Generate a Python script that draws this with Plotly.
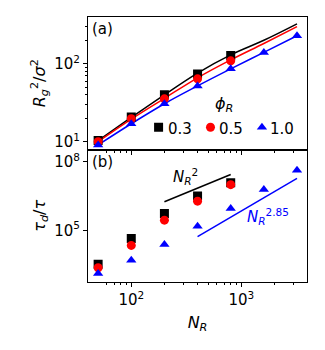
import plotly.graph_objects as go
from plotly.subplots import make_subplots

# ---- data ----
N = [50, 100, 200, 400, 800, 1600, 3200]

phi_labels = ["0.3", "0.5", "1.0"]
colors = ["black", "red", "blue"]
symbols = ["square", "circle", "triangle-up"]

# (a) Rg^2 / sigma^2 markers
rg_03 = [10.4, 20.7, 40, 74, 128]
rg_05 = [10.0, 19.7, 35.5, 64, 109]
rg_10 = [9.1, 17, 30.7, 52, 86, 140, 229]

# (a) fitted curves
fit_03 = [10.3, 20.5, 40, 76, 130, 200, 325]
fit_05 = [10.0, 19.5, 36, 66, 112, 182, 300]
fit_10 = [9.1, 17, 30.7, 52, 86, 140, 229]

# (b) tau_d / tau
td_03 = [3300, 44000, 5.5e5, 3.2e6, 1.2e7]
td_05 = [2300, 22000, 2.8e5, 1.9e6, 1.0e7]
td_10 = [1300, 4900, 24000, 1.5e5, 9.0e5, 6.2e6, 4.3e7]

# guide lines
guide2_x = [200, 800]
guide2_y = [1.8e6, 2.8e7]
guide285_x = [400, 3200]
guide285_y = [5.3e4, 1.87e7]

rg = [rg_03, rg_05, rg_10]
fits = [fit_03, fit_05, fit_10]
td = [td_03, td_05, td_10]

FONT = "DejaVu Sans"

fig = make_subplots(rows=2, cols=1, shared_xaxes=True, vertical_spacing=0)

# ── panel (a) ──
for i in range(3):
    fig.add_trace(go.Scatter(x=N[:len(fits[i])], y=fits[i], mode="lines",
        line=dict(color=colors[i], width=1.5, shape="spline"),
        showlegend=False, hoverinfo="skip"), row=1, col=1)
# one legend per entry (symbol only), labels added as text right next to them
legend_ids = ["legend", "legend2", "legend3"]
for i in range(3):
    fig.add_trace(go.Scatter(x=N[:len(rg[i])], y=rg[i], mode="markers",
        name="", legend=legend_ids[i],
        marker=dict(color=colors[i], symbol=symbols[i], size=9, line=dict(width=0))),
        row=1, col=1)

# ── panel (b) ──
for i in range(3):
    fig.add_trace(go.Scatter(x=N[:len(td[i])], y=td[i], mode="markers",
        marker=dict(color=colors[i], symbol=symbols[i], size=9, line=dict(width=0)),
        showlegend=False), row=2, col=1)
fig.add_trace(go.Scatter(x=guide2_x, y=guide2_y, mode="lines",
    line=dict(color="black", width=1.5), showlegend=False), row=2, col=1)
fig.add_trace(go.Scatter(x=guide285_x, y=guide285_y, mode="lines",
    line=dict(color="blue", width=1.5), showlegend=False), row=2, col=1)

minor_x = [60, 70, 80, 90, 200, 300, 400, 500, 600, 700, 800, 900, 2000, 3000]
minor_a = [20, 30, 40, 50, 60, 70, 80, 90, 200, 300]

axis_common = dict(type="log", showline=True, linecolor="black", linewidth=1,
                   mirror=True, ticks="outside", ticklen=4, tickcolor="black",
                   showgrid=False, zeroline=False, automargin=False,
                   tickfont=dict(family=FONT, size=15, color="black"))

fig.update_xaxes(range=[1.607, 3.596], **axis_common)
fig.update_xaxes(showticklabels=False, row=1, col=1,
                 tickvals=[100, 1000],
                 minor=dict(ticks="outside", ticklen=2, tickvals=minor_x, tickcolor="black"))
fig.update_xaxes(row=2, col=1, tickvals=[100, 1000],
                 ticktext=["10<sup>2</sup>", "10<sup>3</sup>"],
                 minor=dict(ticks="outside", ticklen=2, tickvals=minor_x, tickcolor="black"),
                 title=dict(text="<i>N</i><sub><i>R</i></sub>",
                            font=dict(family=FONT, size=16, color="black"), standoff=8))

fig.update_yaxes(**axis_common)
fig.update_yaxes(row=1, col=1, range=[0.9, 2.6], tickvals=[10, 100],
                 ticktext=["10<sup>1</sup>", "10<sup>2</sup>"],
                 minor=dict(ticks="outside", ticklen=2, tickvals=minor_a, tickcolor="black"),
                 title=dict(text="<i>R</i><sub><i>g</i></sub><sup>2</sup>/<i>σ</i><sup>2</sup>",
                            font=dict(family=FONT, size=16, color="black"), standoff=4))
fig.update_yaxes(row=2, col=1, range=[2.74, 8.54], tickvals=[1e5, 1e8],
                 ticktext=["10<sup>5</sup>", "10<sup>8</sup>"],
                 title=dict(text="<i>τ</i><sub><i>d</i></sub>/<i>τ</i>",
                            font=dict(family=FONT, size=16, color="black"), standoff=4))

# panel labels and guide labels
fig.add_annotation(text="(a)", xref="x domain", yref="y domain", x=0.01, y=0.99,
                   xanchor="left", yanchor="top", showarrow=False,
                   font=dict(family=FONT, size=15, color="black"))
fig.add_annotation(text="(b)", xref="x2 domain", yref="y2 domain", x=0.01, y=0.99,
                   xanchor="left", yanchor="top", showarrow=False,
                   font=dict(family=FONT, size=15, color="black"))
fig.add_annotation(text="<i>N</i><sub><i>R</i></sub><sup>2</sup>", xref="x2", yref="y2",
                   x=2.49, y=7.36, showarrow=False,
                   font=dict(family=FONT, size=15, color="black"))
fig.add_annotation(text="<i>N</i><sub><i>R</i></sub><sup>2.85</sup>", xref="x2", yref="y2",
                   x=3.24, y=5.61, showarrow=False,
                   font=dict(family=FONT, size=15, color="blue"))
fig.add_annotation(text="<i>ϕ</i><sub><i>R</i></sub>", xref="x domain", yref="y domain",
                   x=0.62, y=0.34, showarrow=False,
                   font=dict(family=FONT, size=16, color="black"))

# legend labels
for lbl, xpos in zip(phi_labels, [0.358, 0.588, 0.82]):
    fig.add_annotation(text=lbl, xref="x domain", yref="y domain", x=xpos, y=0.158,
                       xanchor="left", yanchor="middle", showarrow=False,
                       font=dict(family=FONT, size=15, color="black"))

leg_style = dict(orientation="h", y=0.583, xanchor="left", yanchor="middle",
                 bgcolor="rgba(0,0,0,0)", itemwidth=30,
                 font=dict(family=FONT, size=15, color="black"))

# the page body adds an 8px offset, so the figure is a bit smaller than the window
fig.update_layout(
    width=317, height=342,
    margin=dict(l=80, r=18, t=9, b=68),
    plot_bgcolor="white", paper_bgcolor="white",
    font=dict(family=FONT, size=14, color="black"),
    legend=dict(x=0.231, **leg_style),
    legend2=dict(x=0.468, **leg_style),
    legend3=dict(x=0.703, **leg_style),
)

fig.write_html("out.html")
